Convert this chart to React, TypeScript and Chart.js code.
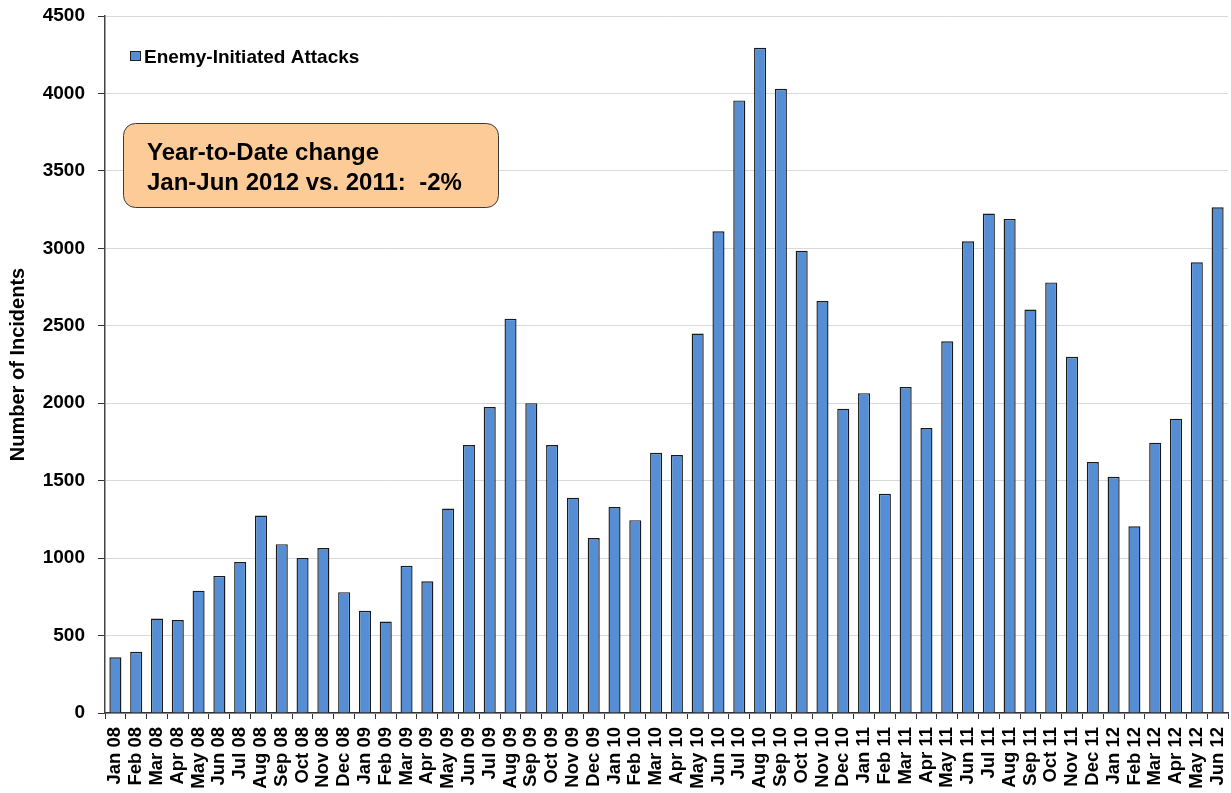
import React, { useEffect, useRef } from "react";
import { Chart, registerables } from "chart.js";

Chart.register(...registerables);

const months = [
  "Jan 08", "Feb 08", "Mar 08", "Apr 08", "May 08", "Jun 08", "Jul 08", "Aug 08", "Sep 08", "Oct 08", "Nov 08", "Dec 08",
  "Jan 09", "Feb 09", "Mar 09", "Apr 09", "May 09", "Jun 09", "Jul 09", "Aug 09", "Sep 09", "Oct 09", "Nov 09", "Dec 09",
  "Jan 10", "Feb 10", "Mar 10", "Apr 10", "May 10", "Jun 10", "Jul 10", "Aug 10", "Sep 10", "Oct 10", "Nov 10", "Dec 10",
  "Jan 11", "Feb 11", "Mar 11", "Apr 11", "May 11", "Jun 11", "Jul 11", "Aug 11", "Sep 11", "Oct 11", "Nov 11", "Dec 11",
  "Jan 12", "Feb 12", "Mar 12", "Apr 12", "May 12", "Jun 12",
];

const attacks2008 = [360, 395, 610, 600, 790, 885, 975, 1275, 1090, 1000, 1065, 780];
const attacks2009 = [660, 590, 950, 850, 1320, 1730, 1975, 2545, 2000, 1730, 1390, 1130];
const attacks2010 = [1330, 1245, 1680, 1665, 2450, 3110, 3955, 4295, 4030, 2985, 2660, 1965];
const attacks2011 = [2065, 1415, 2105, 1840, 2400, 3045, 3225, 3190, 2605, 2780, 2300, 1620];
const attacks2012 = [1525, 1205, 1745, 1900, 2910, 3265];

const seriesName = "Enemy-Initiated Attacks";
const noteLines = ["Year-to-Date change", "Jan-Jun 2012 vs. 2011:  -2%"];

const yMax = 4500;
const yStep = 500;

const FONT = "'Liberation Sans', Arial, sans-serif";
const BAR_FILL = "#558ed5";
const BAR_EDGE = "#1a1a1a";

// Legend entry and year-to-date note drawn inside the plot area
const overlayPlugin = {
  id: "overlay",
  afterDraw(chart: Chart) {
    const ctx = chart.ctx;
    ctx.save();

    // legend
    ctx.fillStyle = BAR_FILL;
    ctx.fillRect(130, 51, 11, 10);
    ctx.strokeStyle = "#222";
    ctx.lineWidth = 1;
    ctx.strokeRect(130.5, 51.5, 10, 9);
    ctx.fillStyle = "#000";
    ctx.font = `bold 19px ${FONT}`;
    ctx.textBaseline = "alphabetic";
    ctx.textAlign = "left";
    ctx.fillText(seriesName, 144, 63);

    // note box
    const x = 123.5, y = 123.5, w = 375, h = 84, r = 12;
    ctx.beginPath();
    ctx.moveTo(x + r, y);
    ctx.lineTo(x + w - r, y);
    ctx.arcTo(x + w, y, x + w, y + r, r);
    ctx.lineTo(x + w, y + h - r);
    ctx.arcTo(x + w, y + h, x + w - r, y + h, r);
    ctx.lineTo(x + r, y + h);
    ctx.arcTo(x, y + h, x, y + h - r, r);
    ctx.lineTo(x, y + r);
    ctx.arcTo(x, y, x + r, y, r);
    ctx.closePath();
    ctx.fillStyle = "#fdcb97";
    ctx.fill();
    ctx.strokeStyle = "#3a3a3a";
    ctx.lineWidth = 1;
    ctx.stroke();

    ctx.fillStyle = "#000";
    ctx.font = `bold 24px ${FONT}`;
    ctx.fillText(noteLines[0], 147, 160);
    ctx.fillText(noteLines[1], 147, 190);

    ctx.restore();
  },
};

export default function App() {
  const canvasRef = useRef<HTMLCanvasElement | null>(null);

  useEffect(() => {
    document.body.style.margin = "0";
    const canvas = canvasRef.current;
    if (!canvas) return;

    const values = [...attacks2008, ...attacks2009, ...attacks2010, ...attacks2011, ...attacks2012];

    const chart = new Chart(canvas, {
      type: "bar",
      data: {
        labels: months,
        datasets: [
          {
            label: seriesName,
            data: values,
            backgroundColor: BAR_FILL,
            borderColor: BAR_EDGE,
            borderWidth: 1.4,
            barPercentage: 0.58,
            categoryPercentage: 1,
          },
        ],
      },
      options: {
        animation: false,
        responsive: false,
        maintainAspectRatio: false,
        layout: { padding: { top: 16, right: 3, left: 0, bottom: 0 } },
        plugins: {
          legend: { display: false },
          tooltip: { enabled: false },
        },
        scales: {
          x: {
            offset: true,
            grid: {
              offset: true,
              drawOnChartArea: false,
              drawTicks: true,
              tickLength: 6,
              tickColor: "#333",
            },
            border: { color: "#333", width: 1.5 },
            ticks: {
              autoSkip: false,
              maxRotation: 90,
              minRotation: 90,
              padding: 8,
              color: "#000",
              font: { family: FONT, size: 18.5, weight: "bold" },
            },
            afterFit(scale: any) {
              scale.height = 80;
              scale.paddingLeft = 0;
              scale.paddingRight = 0;
            },
          },
          y: {
            min: 0,
            max: yMax,
            ticks: {
              stepSize: yStep,
              padding: 13,
              color: "#000",
              font: { family: FONT, size: 19, weight: "bold" },
              callback: (v: any) => String(v),
            },
            grid: {
              color: "#d9d9d9",
              lineWidth: 1,
              tickLength: 7,
              tickColor: "#333",
            },
            border: { color: "#444", width: 1.5 },
            title: {
              display: true,
              text: "Number of Incidents",
              color: "#000",
              font: { family: FONT, size: 20, weight: "bold" },
              padding: { top: 6, bottom: 0 },
            },
            afterFit(scale: any) {
              scale.width = 105;
              scale.paddingTop = 0;
              scale.paddingBottom = 0;
            },
          },
        },
      },
      plugins: [overlayPlugin],
    });

    return () => chart.destroy();
  }, []);

  return (
    <div style={{ width: 1231, height: 793 }}>
      <canvas ref={canvasRef} width={1231} height={793} style={{ display: "block" }} />
    </div>
  );
}
